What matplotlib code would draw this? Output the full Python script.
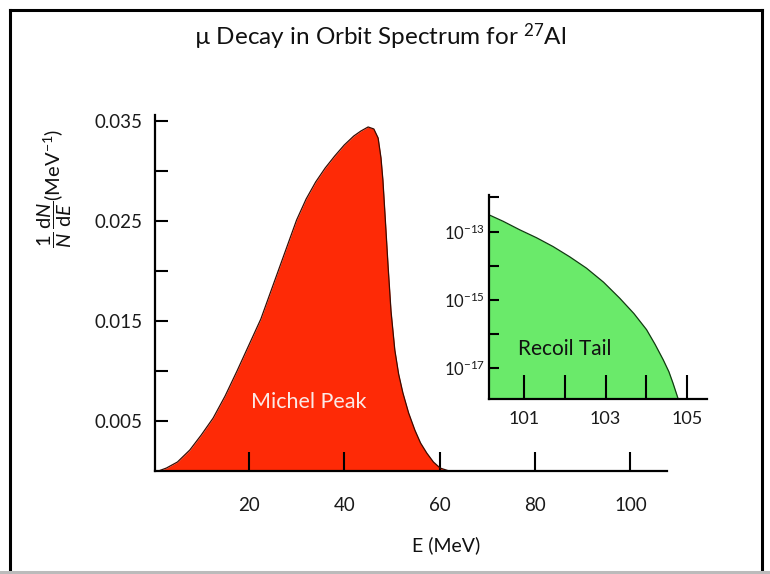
import matplotlib
matplotlib.use("Agg")
import matplotlib.pyplot as plt
from matplotlib.lines import Line2D
from matplotlib.ticker import NullLocator

plt.rcParams["font.family"] = ["Lato", "DejaVu Sans"]
plt.rcParams["mathtext.fontset"] = "custom"
plt.rcParams["mathtext.rm"] = "Lato"
plt.rcParams["mathtext.it"] = "Lato:italic"
plt.rcParams["mathtext.bf"] = "Lato:bold"

# Michel peak, E in MeV, 1/N dN/dE in MeV^-1
michel_e = [1, 2.7, 5, 7.6, 10, 12.5, 15, 17.5, 20, 22.5, 25, 27.5, 30,
            32, 34, 36, 38, 40, 42, 43.5, 45, 46.2, 47.1, 47.7, 48.1, 48.6,
            49.2, 49.8, 50.6, 51.4, 52.3, 53.5, 54.8, 56, 57.3, 58.7, 60.1, 62]
michel_y = [0, 0.0003, 0.0009, 0.0021, 0.0036, 0.0053, 0.0075, 0.0100,
            0.0126, 0.0152, 0.0185, 0.0218, 0.0251, 0.0272, 0.0289, 0.0303,
            0.0315, 0.0326, 0.0335, 0.0340, 0.0344, 0.0342, 0.0333, 0.0313,
            0.0291, 0.0252, 0.0204, 0.0160, 0.0121, 0.0097, 0.0078, 0.0058,
            0.0041, 0.0028, 0.0018, 0.0009, 0.0003, 0.0]

# Recoil tail (inset, log scale)
tail_e = [100.13, 100.48, 100.89, 101.3, 101.71, 102.12, 102.53, 102.95,
          103.35, 103.7, 104.01, 104.22, 104.42, 104.56, 104.66, 104.79]
tail_y = [10**-12.51, 10**-12.70, 10**-12.95, 10**-13.18, 10**-13.44,
          10**-13.74, 10**-14.07, 10**-14.48, 10**-14.95, 10**-15.4,
          10**-15.87, 10**-16.3, 10**-16.75, 10**-17.1, 10**-17.43, 10**-17.9]

main_xticks = [20, 40, 60, 80, 100]
main_yticks = [0.005, 0.010, 0.015, 0.020, 0.025, 0.030, 0.035]
main_ylabels = ["0.005", "", "0.015", "", "0.025", "", "0.035"]

inset_xticks = [101, 102, 103, 104, 105]
inset_xlabels = ["101", "", "103", "", "105"]
inset_yticks = [1e-17, 1e-16, 1e-15, 1e-14, 1e-13, 1e-12]
inset_ylabels = ["$10^{-17}$", "", "$10^{-15}$", "", "$10^{-13}$", ""]

RED = "#fe2a06"
GREEN = "#6aea6a"
INK = "#1a1a1a"

fig = plt.figure(figsize=(7.7, 5.74), dpi=100)

# main axes
ax = fig.add_axes([0.2013, 0.1794, 0.665, 0.6203])
ax.fill_between(michel_e, michel_y, 0, color=RED, lw=0)
ax.plot(michel_e, michel_y, color="#3a0a00", lw=0.9)
ax.set_xlim(0.3, 107.7)
ax.set_ylim(0, 0.0356)
for s in ["top", "right"]:
    ax.spines[s].set_visible(False)
for s in ["left", "bottom"]:
    ax.spines[s].set_linewidth(1.6)
ax.set_xticks(main_xticks)
ax.set_xticklabels([str(v) for v in main_xticks])
ax.set_yticks(main_yticks)
ax.set_yticklabels(main_ylabels)
ax.tick_params(axis="x", direction="in", length=14, width=1.5, pad=19,
               labelsize=13.5, labelcolor=INK)
ax.tick_params(axis="y", direction="in", length=9.5, width=1.5, pad=9,
               labelsize=13.5, labelcolor=INK)
ax.text(32.5, 0.0069, "Michel Peak", color="#fbe9e6", fontsize=15.5,
        ha="center", va="center")

# inset axes
ins = fig.add_axes([0.635, 0.3049, 0.2827, 0.3554])
ins.set_yscale("log")
ins.fill_between(tail_e, tail_y, 1e-20, color=GREEN, lw=0)
ins.plot(tail_e, tail_y, color="#103a10", lw=0.9)
ins.set_xlim(100.13, 105.49)
ins.set_ylim(10**-17.9, 10**-11.93)
for s in ["top", "right"]:
    ins.spines[s].set_visible(False)
for s in ["left", "bottom"]:
    ins.spines[s].set_linewidth(1.6)
ins.set_xticks(inset_xticks)
ins.set_xticklabels(inset_xlabels)
ins.set_yticks(inset_yticks)
ins.set_yticklabels(inset_ylabels)
ins.yaxis.set_minor_locator(NullLocator())
ins.tick_params(axis="x", direction="in", length=17, width=1.5, pad=9,
                labelsize=13, labelcolor=INK)
ins.tick_params(axis="y", direction="in", length=7, width=1.5, pad=3,
                labelsize=12, labelcolor=INK)
ins.text(102.0, 10**-16.45, "Recoil Tail", color="#111111", fontsize=15,
         ha="center", va="center")

# titles and labels
fig.text(380 / 770, 1 - 37 / 574, r"µ Decay in Orbit Spectrum for $^{27}$Al",
         ha="center", va="center", fontsize=17.5, color="#111111")
fig.text(446 / 770, 1 - 545 / 574, "E (MeV)", ha="center", va="center",
         fontsize=14, color="#111111")
fig.text(55 / 770, 1 - 188 / 574,
         r"$\dfrac{1}{N}\,\dfrac{\mathrm{d}N}{\mathrm{d}E}$(MeV$^{-1}$)",
         rotation=90, ha="center", va="center", fontsize=14.5, color="#111111")

# picture frame
W, H = 770, 574
for (x0, y0, x1, y1, c) in [(10, 10, 762, 10, "black"), (10, 10, 10, 574, "black"),
                            (762, 10, 762, 574, "black"), (0, 572, 770, 572, "#bbbbbb")]:
    fig.add_artist(Line2D([x0 / W, x1 / W], [1 - y0 / H, 1 - y1 / H],
                          transform=fig.transFigure, color=c, lw=2.2))

fig.savefig("out.png", dpi=100)
